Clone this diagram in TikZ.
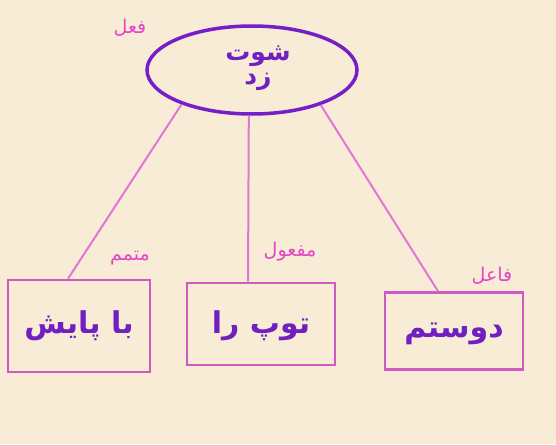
\documentclass[tikz,border=0pt]{standalone}
\usepackage{fontspec}
\TeXXeTstate=1
\newfontfamily\arabicfont[Script=Arabic]{DejaVu Sans}
\usetikzlibrary{shapes.geometric}
\definecolor{bgc}{RGB}{248,236,214}
\definecolor{verbc}{RGB}{118,30,200}
\definecolor{boxc}{RGB}{208,90,196}
\definecolor{linec}{RGB}{226,118,214}
\definecolor{labc}{RGB}{228,70,200}
\definecolor{txtc}{RGB}{112,32,192}
\tikzset{
  verbnode/.style={ellipse, draw=verbc, line width=3.5pt, minimum width=210pt, minimum height=88pt, inner sep=0pt},
  partbox/.style={rectangle, draw=boxc, line width=2.6pt, inner sep=0pt},
  conn/.style={draw=linec, line width=2pt},
  bigtxt/.style={text=txtc, font=\arabicfont\bfseries\fontsize{30}{34}\selectfont},
  verbtxtst/.style={text=txtc, font=\arabicfont\bfseries\fontsize{25}{26}\selectfont},
  labtxt/.style={text=labc, font=\arabicfont\fontsize{19}{22}\selectfont}
}
\begin{document}
\begin{tikzpicture}[x=1pt,y=-1pt]
\fill[bgc] (0,0) rectangle (556,444);
\useasboundingbox (0,0) rectangle (556,444);
\node[verbnode] (verb) at (252,70) {};
\node[verbtxtst, align=center] (verbtxt) at (258,68) {\beginR شوت\endR\\[-2pt]\beginR زد\endR};
\node[partbox, minimum width=142pt, minimum height=92pt] (b1) at (79,326) {};
\node[partbox, minimum width=148pt, minimum height=82pt] (b2) at (261,324) {};
\node[partbox, minimum width=138pt, minimum height=77pt] (b3) at (454,331) {};
\node[bigtxt] (t1) at (79,326) {\beginR با پایش\endR};
\node[bigtxt] (t2) at (261,326) {\beginR توپ را\endR};
\node[bigtxt] (t3) at (454,334) {\beginR دوستم\endR};
\node[labtxt] (l0) at (130,28) {\beginR فعل\endR};
\node[labtxt] (l1) at (130,258) {\beginR متمم\endR};
\node[labtxt] (l2) at (290,252) {\beginR مفعول\endR};
\node[labtxt] (l3) at (492,276) {\beginR فاعل\endR};
\draw[conn] (verb.206) -- ([xshift=-11pt]b1.north);
\draw[conn] (verb.266) -- ([xshift=-13pt]b2.north);
\draw[conn] (verb.333) -- ([xshift=-16pt]b3.north);
\end{tikzpicture}
\end{document}
